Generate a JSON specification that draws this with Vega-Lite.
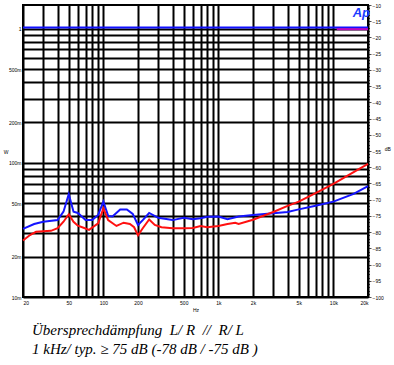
{
  "$schema": "https://vega.github.io/schema/vega-lite/v6.json",
  "width": 345,
  "height": 292,
  "autosize": {"type": "none"},
  "padding": {"left": 23, "top": 5, "right": 26, "bottom": 68},
  "background": "white",
  "config": {
    "view": {"stroke": "black", "strokeWidth": 2},
    "axis": {"labelFont": "Liberation Sans", "labelFontSize": 5, "labelColor": "black", "titleFont": "Liberation Sans", "titleFontSize": 5, "titleFontWeight": "normal", "titleColor": "black", "domain": false, "gridColor": "black", "gridWidth": 2, "gridOpacity": 1, "tickColor": "black"}
  },
  "title": {
    "text": ["Übersprechdämpfung\u00a0\u00a0L/ R\u00a0\u00a0//\u00a0\u00a0R/ L", "1 kHz/ typ. ≥ 75 dB (-78 dB / -75 dB )"],
    "orient": "bottom", "anchor": "start", "frame": "group",
    "font": "Liberation Serif", "fontStyle": "italic", "fontWeight": "normal",
    "fontSize": 15, "lineHeight": 18.5, "color": "black", "dx": 9, "offset": 11
  },
  "encoding": {
    "x": {"field": "f", "type": "quantitative",
      "scale": {"type": "log", "domain": [20, 20000], "nice": false},
      "axis": {"title": "Hz", "grid": true, "ticks": false, "labelPadding": 3, "titlePadding": 2,
        "values": [20,30,40,50,60,70,80,90,100,200,300,400,500,600,700,800,900,1000,2000,3000,4000,5000,6000,7000,8000,9000,10000,20000],
        "labelExpr": "datum.value==1000?'1k':datum.value==2000?'2k':datum.value==5000?'5k':datum.value==10000?'10k':datum.value==20000?'20k':(datum.value==20||datum.value==50||datum.value==100||datum.value==200||datum.value==500)?''+datum.value:''"}}
  },
  "layer": [
    {
      "data": {"values": [
        {"f": 20, "W": 1.02, "s": "ref"},
        {"f": 20000, "W": 1.02, "s": "ref"},
        {"f": 10700, "W": 0.99, "s": "mag"},
        {"f": 20000, "W": 0.99, "s": "mag"}
      ]},
      "mark": {"type": "line", "strokeWidth": 2},
      "encoding": {
        "y": {"field": "W", "type": "quantitative",
          "scale": {"type": "log", "domain": [0.01, 1.5], "nice": false},
          "axis": {"title": "W", "titleAngle": 0, "titleBaseline": "middle", "titlePadding": 3, "grid": true, "ticks": false, "labelPadding": 2,
            "values": [0.01,0.02,0.03,0.04,0.05,0.06,0.07,0.08,0.09,0.1,0.2,0.3,0.4,0.5,0.6,0.7,0.8,0.9,1],
            "labelExpr": "datum.value==1?'1':datum.value==0.5?'500m':datum.value==0.2?'200m':datum.value==0.1?'100m':datum.value==0.05?'50m':datum.value==0.02?'20m':datum.value==0.01?'10m':''"}},
        "color": {"field": "s", "type": "nominal", "legend": null,
          "scale": {"domain": ["mag", "ref"], "range": ["#c000c0", "#1010ff"]}},
        "order": {"field": "s", "sort": "ascending"}
      }
    },
    {
      "encoding": {
        "y": {"field": "dB", "type": "quantitative",
          "scale": {"domain": [-100, -10], "nice": false, "zero": false},
          "axis": {"orient": "right", "title": "dB", "titleAngle": 0, "titlePadding": 4, "grid": false, "labelPadding": 1, "tickWidth": 0.7,
            "tickSize": {"condition": {"test": "datum.value % 5 == 0", "value": 3}, "value": 1.5},
            "values": [-100,-99,-98,-97,-96,-95,-94,-93,-92,-91,-90,-89,-88,-87,-86,-85,-84,-83,-82,-81,-80,-79,-78,-77,-76,-75,-74,-73,-72,-71,-70,-69,-68,-67,-66,-65,-64,-63,-62,-61,-60,-59,-58,-57,-56,-55,-54,-53,-52,-51,-50,-49,-48,-47,-46,-45,-44,-43,-42,-41,-40,-39,-38,-37,-36,-35,-34,-33,-32,-31,-30,-29,-28,-27,-26,-25,-24,-23,-22,-21,-20,-19,-18,-17,-16,-15,-14,-13,-12,-11,-10],
            "labelExpr": "datum.value % 5 == 0 ? format(datum.value, 'd') : ''"}}
      },
      "layer": [
        {
          "data": {"values": [
            {"f":20,"dB":-79.0,"ch":"L/R"},{"f":25,"dB":-77.5,"ch":"L/R"},{"f":30,"dB":-76.8,"ch":"L/R"},{"f":40,"dB":-76.3,"ch":"L/R"},{"f":45,"dB":-73.7,"ch":"L/R"},{"f":50,"dB":-68.3,"ch":"L/R"},{"f":55,"dB":-73.7,"ch":"L/R"},{"f":60,"dB":-74.1,"ch":"L/R"},{"f":70,"dB":-76.3,"ch":"L/R"},{"f":80,"dB":-76.3,"ch":"L/R"},{"f":90,"dB":-74.7,"ch":"L/R"},{"f":100,"dB":-70.6,"ch":"L/R"},{"f":110,"dB":-75.0,"ch":"L/R"},{"f":120,"dB":-75.2,"ch":"L/R"},{"f":140,"dB":-73.0,"ch":"L/R"},{"f":160,"dB":-73.0,"ch":"L/R"},{"f":180,"dB":-74.4,"ch":"L/R"},{"f":200,"dB":-77.8,"ch":"L/R"},{"f":220,"dB":-76.3,"ch":"L/R"},{"f":250,"dB":-74.1,"ch":"L/R"},{"f":300,"dB":-75.6,"ch":"L/R"},{"f":400,"dB":-76.3,"ch":"L/R"},{"f":500,"dB":-75.6,"ch":"L/R"},{"f":600,"dB":-76.0,"ch":"L/R"},{"f":700,"dB":-75.7,"ch":"L/R"},{"f":800,"dB":-75.3,"ch":"L/R"},{"f":1000,"dB":-75.2,"ch":"L/R"},{"f":1200,"dB":-76.0,"ch":"L/R"},{"f":1500,"dB":-75.2,"ch":"L/R"},{"f":2000,"dB":-74.7,"ch":"L/R"},{"f":3000,"dB":-74.2,"ch":"L/R"},{"f":4000,"dB":-73.8,"ch":"L/R"},{"f":5000,"dB":-73.0,"ch":"L/R"},{"f":7000,"dB":-71.9,"ch":"L/R"},{"f":10000,"dB":-70.6,"ch":"L/R"},{"f":15000,"dB":-68.2,"ch":"L/R"},{"f":20000,"dB":-65.8,"ch":"L/R"},
            {"f":20,"dB":-82.6,"ch":"R/L"},{"f":23,"dB":-80.9,"ch":"R/L"},{"f":26,"dB":-79.9,"ch":"R/L"},{"f":30,"dB":-79.7,"ch":"R/L"},{"f":35,"dB":-79.6,"ch":"R/L"},{"f":40,"dB":-78.8,"ch":"R/L"},{"f":45,"dB":-76.8,"ch":"R/L"},{"f":50,"dB":-74.5,"ch":"R/L"},{"f":55,"dB":-76.8,"ch":"R/L"},{"f":60,"dB":-78.0,"ch":"R/L"},{"f":70,"dB":-78.9,"ch":"R/L"},{"f":75,"dB":-79.3,"ch":"R/L"},{"f":90,"dB":-77.3,"ch":"R/L"},{"f":100,"dB":-72.7,"ch":"R/L"},{"f":110,"dB":-76.3,"ch":"R/L"},{"f":130,"dB":-78.1,"ch":"R/L"},{"f":150,"dB":-77.1,"ch":"R/L"},{"f":170,"dB":-77.5,"ch":"R/L"},{"f":185,"dB":-78.5,"ch":"R/L"},{"f":200,"dB":-81.0,"ch":"R/L"},{"f":220,"dB":-78.8,"ch":"R/L"},{"f":250,"dB":-76.1,"ch":"R/L"},{"f":280,"dB":-77.8,"ch":"R/L"},{"f":320,"dB":-78.5,"ch":"R/L"},{"f":400,"dB":-78.8,"ch":"R/L"},{"f":500,"dB":-78.8,"ch":"R/L"},{"f":600,"dB":-78.7,"ch":"R/L"},{"f":700,"dB":-78.1,"ch":"R/L"},{"f":800,"dB":-78.5,"ch":"R/L"},{"f":1000,"dB":-78.1,"ch":"R/L"},{"f":1200,"dB":-77.5,"ch":"R/L"},{"f":1400,"dB":-77.1,"ch":"R/L"},{"f":1500,"dB":-77.5,"ch":"R/L"},{"f":2000,"dB":-76.2,"ch":"R/L"},{"f":3000,"dB":-73.8,"ch":"R/L"},{"f":4000,"dB":-71.9,"ch":"R/L"},{"f":5000,"dB":-70.6,"ch":"R/L"},{"f":7000,"dB":-68.0,"ch":"R/L"},{"f":10000,"dB":-65.1,"ch":"R/L"},{"f":15000,"dB":-61.5,"ch":"R/L"},{"f":20000,"dB":-59.0,"ch":"R/L"}
          ]},
          "mark": {"type": "line", "strokeWidth": 2},
          "encoding": {
            "color": {"field": "ch", "type": "nominal", "legend": null,
              "scale": {"domain": ["L/R", "R/L"], "range": ["#1414ff", "#ff1010"]}}
          }
        },
        {
          "data": {"values": [{"f": 20000, "dB": -12.5, "t": "Ap"}]},
          "mark": {"type": "text", "font": "Liberation Sans", "fontSize": 13, "fontWeight": "bold", "fontStyle": "italic", "color": "#1a3cff", "align": "right", "baseline": "middle", "dx": 2},
          "encoding": {
            "text": {"field": "t"}
          }
        }
      ]
    }
  ],
  "resolve": {"scale": {"y": "independent", "color": "independent"}}
}
